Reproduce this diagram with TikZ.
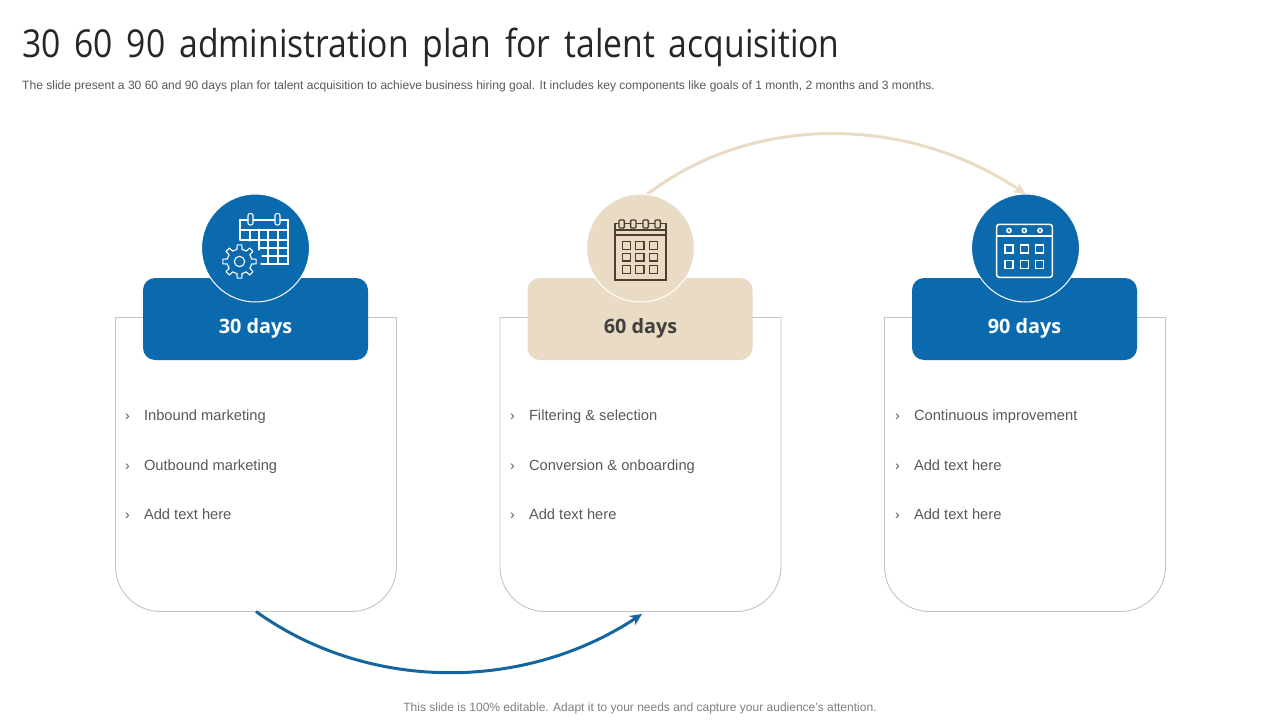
\documentclass[tikz,border=0pt]{standalone}
\usepackage{fontspec}
\setmainfont{Liberation Sans}
\newfontfamily\titlefont[WordSpace=1.58,FakeStretch=0.875]{Open Sans}
\newfontfamily\badgefont{Open Sans}
\usetikzlibrary{arrows.meta,calc}
\definecolor{bluec}{HTML}{0B69AD}
\definecolor{arcblue}{HTML}{15669F}
\definecolor{tanc}{HTML}{EADBC4}
\definecolor{iconbrown}{HTML}{4A3F30}
\definecolor{cardgray}{HTML}{C4C4C4}
\definecolor{bodytxt}{HTML}{595959}
\definecolor{foot}{HTML}{7F7F7F}
\tikzset{
  x=1pt,y=-1pt,
  cardnode/.style={minimum width=281pt,minimum height=294pt,inner sep=0pt,outer sep=0pt},
  cardedge/.style={draw=cardgray,line width=0.9pt},
  badge/.style={minimum width=225pt,minimum height=82pt,rounded corners=12pt,inner sep=0pt,outer sep=0pt},
  badgelabel/.style={anchor=base,inner sep=0pt,font=\fontsize{19.8}{22}\badgefont\bfseries},
  disc/.style={circle,minimum size=108pt,inner sep=0pt,outer sep=0pt,draw=white,line width=1pt},
  itemtxt/.style={anchor=base west,inner sep=0pt,text=bodytxt,font=\fontsize{14.7}{17}\selectfont},
  marktxt/.style={anchor=base,inner sep=0pt,text=bodytxt,font=\fontsize{14}{17}\selectfont},
  iconw/.style={draw=white,line width=1.1pt},
  iconb/.style={draw=iconbrown,line width=1.4pt},
}
\newcommand{\cardpath}[1]{%
  \draw[cardedge] ($(#1.south west)+(0,-45)$) -- (#1.north west) -- (#1.north east) -- ($(#1.south east)+(0,-45)$) arc[start angle=0,end angle=-90,radius=45pt] -- ($(#1.south west)+(45,0)$) arc[start angle=270,end angle=180,radius=45pt];}
\newcommand{\itemrow}[4]{%
  \node[marktxt] (m#1) at (#2,#3+5) {›};
  \node[itemtxt] (t#1) at (#2+16.3,#3+5) {#4};}
\begin{document}
\begin{tikzpicture}
\useasboundingbox (0,0) rectangle (1280,720);
\fill[white] (0,0) rectangle (1280,720);
\node[anchor=base west,inner sep=0pt,text=black!85,font=\fontsize{38.5}{44}\titlefont] (title) at (22,57) {30 60 90 administration plan for talent acquisition};
\node[anchor=base west,inner sep=0pt,text=bodytxt,font=\fontsize{12.05}{14}\selectfont] (sub) at (22,89) {The slide present a 30 60 and 90 days plan for talent acquisition to achieve business hiring goal. It includes key components like goals of 1 month, 2 months and 3 months.};
\node[cardnode] (card1) at (256,464.5) {};
\node[cardnode] (card2) at (640.5,464.5) {};
\node[cardnode] (card3) at (1025,464.5) {};
\cardpath{card1}\cardpath{card2}\cardpath{card3}
\node[badge,fill=bluec] (badge1) at (255.5,319) {};
\node[badge,fill=tanc] (badge2) at (640,319) {};
\node[badge,fill=bluec] (badge3) at (1024.5,319) {};
\node[badgelabel,text=white] (lab1) at (255.5,333) {30 days};
\node[badgelabel,text=black!75] (lab2) at (640.5,333) {60 days};
\node[badgelabel,text=white] (lab3) at (1024.5,333) {90 days};
\coordinate (d2) at (640.5,248);
\coordinate (d3) at (1025.5,248);
\node[disc,draw=none] (arcstart) at (d2) {};
\node[disc,draw=none] (arcend) at (d3) {};
\draw[tanc,line width=3pt,-{Stealth[length=12pt,width=11pt]}] (arcstart.83) .. controls (752,114) and (906,114) .. (arcend.north);
\draw[arcblue,line width=3pt,-{Stealth[length=12pt,width=11pt]}] (card1.south) .. controls (368,692) and (524,692) .. ($(card2.south)+(1.5,2.5)$);
\node[disc,fill=bluec] (disc1) at (255.5,248) {};
\node[disc,fill=tanc] (disc2) at (d2) {};
\node[disc,fill=bluec] (disc3) at (d3) {};
% icon 1: calendar and gear
\begin{scope}[iconw,line cap=round]
\draw (248,220) -- (240,220) -- (240,240) (253,220) -- (275,220) (280,220) -- (288,220) -- (288,264) -- (261,264);
\draw (240,230) -- (288,230) (240,240) -- (288,240) (259,248) -- (288,248) (262,256) -- (288,256);
\draw (250,230) -- (250,241) (259,230) -- (259,250) (268,230) -- (268,264) (278,230) -- (278,264);
\draw[rounded corners=2pt] (248,213.5) rectangle (253,225);
\draw[rounded corners=2pt] (275,213.5) rectangle (280,225);
\draw (239.5,261.5) circle[radius=5.2];
\draw[line join=round] \foreach \a in {0,45,...,315} {
  ($(239.5,261.5)+({12.3*cos(\a-22.5)},{12.3*sin(\a-22.5)})$) --
  ($(239.5,261.5)+({12.3*cos(\a-12)},{12.3*sin(\a-12)})$) --
  ($(239.5,261.5)+({16.8*cos(\a-8)},{16.8*sin(\a-8)})$) --
  ($(239.5,261.5)+({16.8*cos(\a+8)},{16.8*sin(\a+8)})$) --
  ($(239.5,261.5)+({12.3*cos(\a+12)},{12.3*sin(\a+12)})$) --
  ($(239.5,261.5)+({12.3*cos(\a+22.5)},{12.3*sin(\a+22.5)})$)
};
\end{scope}
% icon 2: calendar with ring binding
\begin{scope}[iconb]
\draw (615,280) rectangle (666,223.5);
\draw (615,230) -- (666,230) (615,235) -- (666,235);
\foreach \x in {621.7,633.3,645.7,657.7}
  \draw[fill=tanc,rounded corners=1pt] (\x-2.7,220) rectangle (\x+2.7,228);
\foreach \x in {622.3,635.7,649.3} \foreach \y in {241.7,253.3,265.7}
  \draw (\x,\y) rectangle (\x+8.3,\y+7.6);
\end{scope}
% icon 3: calendar with three dots
\begin{scope}[iconw,line width=1.5pt]
\draw[rounded corners=2.5pt] (996.7,224.3) rectangle (1052.3,277.3);
\draw (996.7,236) -- (1052.3,236);
\foreach \x in {1009,1024.3,1040} \draw (\x,230.5) circle[radius=2.1];
\foreach \x in {1005,1020.3,1035.3} \foreach \y in {245,260.7}
  \draw (\x,\y) rectangle (\x+8.2,\y+7.9);
\end{scope}
\itemrow{a}{127.5}{415}{Inbound marketing}
\itemrow{b}{127.5}{465}{Outbound marketing}
\itemrow{c}{127.5}{514}{Add text here}
\itemrow{d}{512.5}{415}{Filtering \& selection}
\itemrow{e}{512.5}{465}{Conversion \& onboarding}
\itemrow{f}{512.5}{514}{Add text here}
\itemrow{g}{897.5}{415}{Continuous improvement}
\itemrow{h}{897.5}{465}{Add text here}
\itemrow{i}{897.5}{514}{Add text here}
\node[anchor=base,inner sep=0pt,text=foot,font=\fontsize{12}{14}\selectfont] (footer) at (640,711) {This slide is 100\% editable. Adapt it to your needs and capture your audience's attention.};
\end{tikzpicture}
\end{document}
